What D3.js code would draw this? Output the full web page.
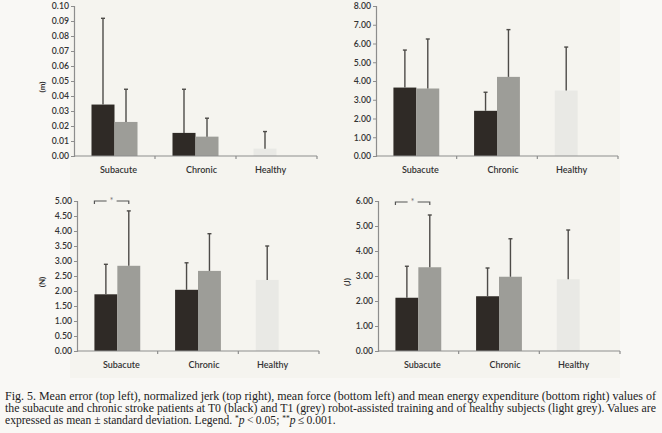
<!DOCTYPE html>
<html>
<head>
<meta charset="utf-8">
<script src="https://cdn.jsdelivr.net/npm/d3@7"></script>
<style>
  body { margin: 0; background: #f8f7f4; }
  svg { display: block; }
</style>
</head>
<body>
<div id="chart"></div>
<script>
// categories and bar order (T0 black, T1 grey, healthy light grey)
var categories = ["Subacute", "Chronic", "Healthy"];
var barCat = ["Subacute", "Subacute", "Chronic", "Chronic", "Healthy"];
var barGroup = ["T0", "T1", "T0", "T1", "H"];

// mean error (m)
var errorMean = [0.0343, 0.0227, 0.0154, 0.0129, 0.0049];
var errorSd = [0.0575, 0.0218, 0.0291, 0.0123, 0.0114];
var errorTicks = [0, 0.01, 0.02, 0.03, 0.04, 0.05, 0.06, 0.07, 0.08, 0.09, 0.10];

// normalized jerk
var jerkMean = [3.65, 3.60, 2.41, 4.22, 3.49];
var jerkSd = [2.00, 2.64, 0.99, 2.52, 2.32];
var jerkTicks = [0, 1, 2, 3, 4, 5, 6, 7, 8];

// mean force (N)
var forceMean = [1.89, 2.84, 2.04, 2.67, 2.37];
var forceSd = [1.00, 1.83, 0.90, 1.24, 1.13];
var forceTicks = [0, 0.5, 1, 1.5, 2, 2.5, 3, 3.5, 4, 4.5, 5];

// energy expenditure (J)
var energyMean = [2.13, 3.35, 2.19, 2.97, 2.87];
var energySd = [1.26, 2.09, 1.13, 1.52, 1.97];
var energyTicks = [0, 1, 2, 3, 4, 5, 6];

var captionLines = [
  "Fig. 5. Mean error (top left), normalized jerk (top right), mean force (bottom left) and mean energy expenditure (bottom right) values of",
  "the subacute and chronic stroke patients at T0 (black) and T1 (grey) robot-assisted training and of healthy subjects (light grey). Values are"
];

var W = 662, H = 433;
var colors = { T0: "#2f2a26", T1: "#9d9d98", H: "#e9e9e5" };
var axisColor = "#8d8d8d";
var textColor = "#333";
var labelFont = "Lato, 'Open Sans', sans-serif";

var svg = d3.select("#chart").append("svg")
  .attr("width", W)
  .attr("height", H);

svg.append("rect").attr("width", W).attr("height", H).attr("fill", "#f9f8f5");
// scanned chart area is a shade darker
svg.append("rect").attr("x", 70).attr("y", 0).attr("width", 550).attr("height", 378).attr("fill", "#f5f4ef");

// draw one panel
function drawPanel(opt) {
  var g = svg.append("g");

  var x = d3.scaleBand().domain(categories).range([opt.x0, opt.x1]).padding(0);
  var y = d3.scaleLinear().domain([0, d3.max(opt.ticks)]).range([opt.yBottom, opt.yTop]);
  var barW = x.bandwidth() * 0.284;

  var barX = function (i) {
    var c = x(barCat[i]) + x.bandwidth() / 2 - barW;
    return barGroup[i] === "T1" ? c + barW : c;
  };

  // bars
  g.selectAll(".bar")
    .data(opt.mean)
    .join("rect")
    .attr("class", "bar")
    .attr("x", function (d, i) { return barX(i); })
    .attr("y", function (d) { return y(d); })
    .attr("width", barW)
    .attr("height", function (d) { return y(0) - y(d); })
    .attr("fill", function (d, i) { return colors[barGroup[i]]; });

  // error bars (upper only)
  var eb = g.selectAll(".err")
    .data(opt.mean)
    .join("g")
    .attr("class", "err")
    .attr("stroke", "#4d4b48")
    .attr("stroke-width", 1.4);
  eb.append("line")
    .attr("x1", function (d, i) { return barX(i) + barW / 2; })
    .attr("x2", function (d, i) { return barX(i) + barW / 2; })
    .attr("y1", function (d) { return y(d); })
    .attr("y2", function (d, i) { return y(d + opt.sd[i]); });
  eb.append("line")
    .attr("x1", function (d, i) { return barX(i) + barW / 2 - 2; })
    .attr("x2", function (d, i) { return barX(i) + barW / 2 + 2; })
    .attr("y1", function (d, i) { return y(d + opt.sd[i]); })
    .attr("y2", function (d, i) { return y(d + opt.sd[i]); });

  // y axis
  var yAxis = g.append("g")
    .attr("transform", "translate(" + opt.x0 + ",0)")
    .call(d3.axisLeft(y).tickValues(opt.ticks).tickFormat(d3.format(".2f")).tickSize(3).tickPadding(2));
  yAxis.select(".domain").attr("stroke", axisColor).attr("stroke-width", 1.2);
  yAxis.selectAll(".tick line").attr("stroke", axisColor);
  yAxis.selectAll("text")
    .attr("fill", textColor)
    .style("font-family", labelFont)
    .style("font-size", "8.7px")
    .style("font-weight", "600");

  // x axis with ticks at band edges
  g.append("line")
    .attr("x1", opt.x0).attr("x2", opt.x1)
    .attr("y1", y(0)).attr("y2", y(0))
    .attr("stroke", axisColor).attr("stroke-width", 1.2);
  var edges = categories.slice(1).map(function (c) { return x(c); }).concat([opt.x1]);
  g.selectAll(".xtick")
    .data(edges)
    .join("line")
    .attr("x1", function (d) { return d; })
    .attr("x2", function (d) { return d; })
    .attr("y1", y(0)).attr("y2", y(0) + 3)
    .attr("stroke", axisColor).attr("stroke-width", 1.2);

  var labelShift = [4, 6, -6];
  g.selectAll(".xlabel")
    .data(categories)
    .join("text")
    .attr("x", function (d, i) { return x(d) + x.bandwidth() / 2 + labelShift[i]; })
    .attr("y", y(0) + 17)
    .attr("text-anchor", "middle")
    .attr("fill", textColor)
    .style("font-family", labelFont)
    .style("font-size", "9px")
    .style("font-weight", "600")
    .text(function (d) { return d; });

  if (opt.unit) {
    g.append("text")
      .attr("transform", "translate(" + opt.unitX + "," + ((opt.yTop + opt.yBottom) / 2 + 6) + ") rotate(-90)")
      .attr("text-anchor", "middle")
      .attr("fill", textColor)
      .style("font-family", labelFont)
      .style("font-size", "8px")
      .style("font-weight", "700")
      .text(opt.unit);
  }

  // significance bracket between T0 and T1 subacute
  if (opt.sig) {
    var bx0 = barX(0), bx1 = barX(1) + barW / 2;
    var by = opt.yTop - 3 + opt.sigDy;
    var mid = (bx0 + bx1) / 2;
    var br = g.append("g").attr("stroke", "#555").attr("stroke-width", 1.2).attr("fill", "none");
    br.append("path").attr("d", "M" + bx0 + "," + (by + 3) + "V" + by + "H" + (mid - 5));
    br.append("path").attr("d", "M" + (mid + 5) + "," + by + "H" + bx1 + "V" + (by + 3));
    g.append("text")
      .attr("x", mid).attr("y", by + 3)
      .attr("text-anchor", "middle")
      .attr("fill", "#777")
      .style("font-family", labelFont)
      .style("font-size", "8.5px")
      .text("*");
  }
}

drawPanel({ x0: 74, x1: 317, yTop: 6, yBottom: 156, mean: errorMean, sd: errorSd, ticks: errorTicks, unit: "(m)", unitX: 45 });
drawPanel({ x0: 376, x1: 618, yTop: 6, yBottom: 156, mean: jerkMean, sd: jerkSd, ticks: jerkTicks });
drawPanel({ x0: 77, x1: 319, yTop: 201, yBottom: 351, mean: forceMean, sd: forceSd, ticks: forceTicks, unit: "(N)", unitX: 45, sig: true, sigDy: 3 });
drawPanel({ x0: 378, x1: 620, yTop: 201, yBottom: 351, mean: energyMean, sd: energySd, ticks: energyTicks, unit: "(J)", unitX: 350, sig: true, sigDy: 4 });

// caption
var cap = svg.append("g")
  .attr("fill", "#222")
  .style("font-family", "'Liberation Serif', 'Times New Roman', serif")
  .style("font-size", "11.6px");

captionLines.forEach(function (line, i) {
  cap.append("text")
    .attr("x", 5)
    .attr("y", 400 + i * 12)
    .attr("textLength", 651)
    .attr("lengthAdjust", "spacingAndGlyphs")
    .text(line);
});

var last = cap.append("text").attr("x", 5).attr("y", 400 + 2 * 12);
last.append("tspan").text("expressed as mean \u00b1 standard deviation. Legend. ");
last.append("tspan").attr("dy", -3.5).style("font-size", "7.5px").text("*");
last.append("tspan").attr("dy", 3.5).style("font-style", "italic").text("p");
last.append("tspan").text("\u2009<\u20090.05; ");
last.append("tspan").attr("dy", -3.5).style("font-size", "7.5px").text("**");
last.append("tspan").attr("dy", 3.5).style("font-style", "italic").text("p");
last.append("tspan").text("\u2009\u2264\u20090.001.");
</script>
</body>
</html>
